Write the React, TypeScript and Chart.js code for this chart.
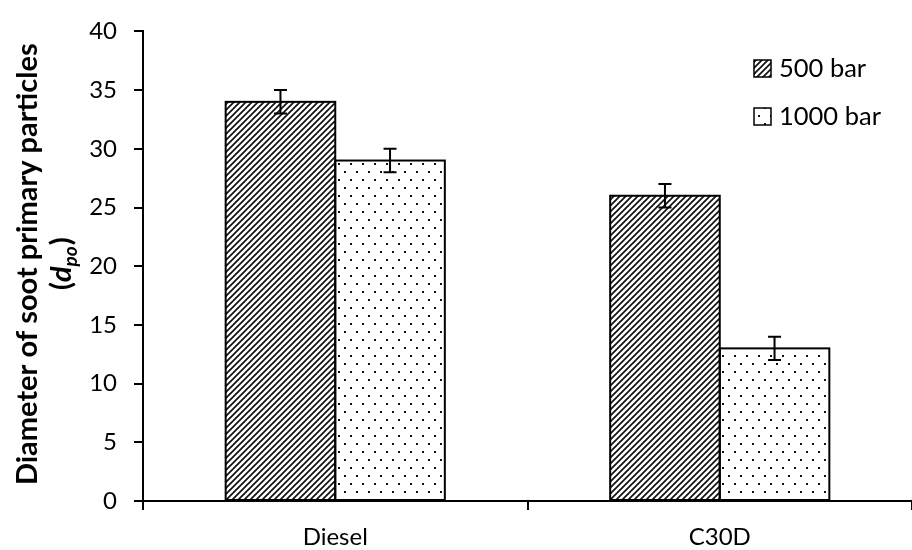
import React, { useEffect, useRef } from 'react';
import { Chart, registerables } from 'chart.js';
Chart.register(...registerables);

const categories = ['Diesel', 'C30D'];
const seriesNames = ['500 bar', '1000 bar'];
const values500 = [34, 26];
const values1000 = [29, 13];
const errors500 = [1, 1];
const errors1000 = [1, 1];
const yMin = 0;
const yMax = 40;
const yStep = 5;
const yTitleLine1 = 'Diameter of soot primary particles';

const FONT = 'Lato';
const FS_TICK = 24;
const FS_LEGEND = 25.5;
const FS_TITLE = 29;

function makeHatch(): CanvasPattern {
  const c = document.createElement('canvas');
  c.width = 6; c.height = 6;
  const g = c.getContext('2d')!;
  g.fillStyle = '#fff'; g.fillRect(0, 0, 6, 6);
  g.strokeStyle = '#111'; g.lineWidth = 1.7;
  g.beginPath();
  g.moveTo(-1, 7); g.lineTo(7, -1);
  g.moveTo(-1, 1); g.lineTo(1, -1);
  g.moveTo(5, 7); g.lineTo(7, 5);
  g.stroke();
  return g.createPattern(c, 'repeat')!;
}

function makeDots(): CanvasPattern {
  const c = document.createElement('canvas');
  c.width = 12; c.height = 16;
  const g = c.getContext('2d')!;
  g.fillStyle = '#fff'; g.fillRect(0, 0, 12, 16);
  g.fillStyle = '#111';
  g.fillRect(2, 3, 2, 2);
  g.fillRect(8, 11, 2, 2);
  return g.createPattern(c, 'repeat')!;
}

export default function App() {
  const ref = useRef<HTMLCanvasElement>(null);
  useEffect(() => {
    document.body.style.margin = '0';
    const canvas = ref.current!;
    const hatch = makeHatch();
    const dots = makeDots();
    const errs = [errors500, errors1000];
    const fills = [hatch, dots];

    const outlinePlugin = {
      id: 'outlinesAndErrors',
      afterDatasetsDraw(chart: any) {
        const ctx = chart.ctx;
        const yScale = chart.scales.y;
        ctx.save();
        chart.data.datasets.forEach((ds: any, di: number) => {
          const meta = chart.getDatasetMeta(di);
          meta.data.forEach((bar: any) => {
            const p = bar.getProps(['x', 'y', 'base', 'width'], true);
            ctx.strokeStyle = '#000';
            ctx.lineWidth = 2;
            ctx.strokeRect(p.x - p.width / 2, p.y, p.width, p.base - p.y);
          });
        });
        chart.data.datasets.forEach((ds: any, di: number) => {
          const meta = chart.getDatasetMeta(di);
          meta.data.forEach((bar: any, i: number) => {
            const v = ds.data[i];
            const e = errs[di][i];
            const x = bar.x;
            const yt = yScale.getPixelForValue(v + e);
            const yb = yScale.getPixelForValue(v - e);
            ctx.strokeStyle = '#000';
            ctx.lineWidth = 2;
            ctx.beginPath();
            ctx.moveTo(x, yt); ctx.lineTo(x, yb);
            ctx.moveTo(x - 6.5, yt); ctx.lineTo(x + 6.5, yt);
            ctx.moveTo(x - 6.5, yb); ctx.lineTo(x + 6.5, yb);
            ctx.stroke();
          });
        });
        ctx.restore();
      },
    };

    const decorPlugin = {
      id: 'decor',
      afterDraw(chart: any) {
        const ctx = chart.ctx;
        const area = chart.chartArea;
        const cy = (area.top + area.bottom) / 2 - 2;
        ctx.save();
        ctx.fillStyle = '#000';
        // y title line 1
        ctx.save();
        ctx.translate(28, cy);
        ctx.rotate(-Math.PI / 2);
        ctx.font = `bold ${FS_TITLE}px ${FONT}`;
        ctx.textAlign = 'center';
        ctx.textBaseline = 'middle';
        ctx.fillText(yTitleLine1, 0, 0);
        ctx.restore();
        // y title line 2: (d_po)
        ctx.save();
        ctx.translate(62, cy);
        ctx.rotate(-Math.PI / 2);
        const mainF = `bold ${FS_TITLE}px ${FONT}`;
        const itF = `italic bold ${FS_TITLE}px ${FONT}`;
        const subF = `italic bold ${Math.round(FS_TITLE * 0.66)}px ${FONT}`;
        const parts = [
          { t: '(', f: mainF, dy: 0 },
          { t: 'd', f: itF, dy: 0 },
          { t: 'po', f: subF, dy: 6 },
          { t: ')', f: mainF, dy: 0 },
        ];
        let total = 0;
        parts.forEach((p) => { ctx.font = p.f; total += ctx.measureText(p.t).width; });
        let xx = -total / 2;
        ctx.textAlign = 'left';
        ctx.textBaseline = 'alphabetic';
        parts.forEach((p) => {
          ctx.font = p.f;
          ctx.fillText(p.t, xx, 9 + p.dy);
          xx += ctx.measureText(p.t).width + (p.t === 'po' ? 1 : 0);
        });
        ctx.restore();
        // legend
        const rows = [68, 116];
        rows.forEach((ry, i) => {
          ctx.fillStyle = fills[i];
          ctx.fillRect(754, ry - 8, 17, 17);
          ctx.strokeStyle = '#000';
          ctx.lineWidth = 1.5;
          ctx.strokeRect(754, ry - 8, 17, 17);
          ctx.fillStyle = '#000';
          ctx.font = `${FS_LEGEND}px ${FONT}`;
          ctx.textAlign = 'left';
          ctx.textBaseline = 'middle';
          ctx.fillText(seriesNames[i], 779, ry + 1);
        });
        ctx.restore();
      },
    };

    const chart = new Chart(canvas, {
      type: 'bar',
      data: {
        labels: categories,
        datasets: [
          { label: seriesNames[0], data: values500, backgroundColor: hatch as any, borderWidth: 0, barPercentage: 1, categoryPercentage: 0.57 },
          { label: seriesNames[1], data: values1000, backgroundColor: dots as any, borderWidth: 0, barPercentage: 1, categoryPercentage: 0.57 },
        ],
      },
      options: {
        responsive: false,
        animation: false,
        devicePixelRatio: 1,
        layout: { padding: { top: 24, left: 0, right: 0, bottom: 0 } },
        plugins: { legend: { display: false }, tooltip: { enabled: false }, title: { display: false } },
        scales: {
          x: {
            grid: { display: true, drawOnChartArea: false, drawTicks: true, tickLength: 9, color: '#000', lineWidth: 2, offset: true },
            border: { display: true, color: '#000', width: 2 },
            ticks: { color: '#000', font: { family: FONT, size: FS_TICK }, padding: 13 },
            afterFit: (s: any) => { s.height = 49; },
          },
          y: {
            min: yMin,
            max: yMax,
            ticks: { stepSize: yStep, color: '#000', font: { family: FONT, size: FS_TICK }, padding: 17 },
            grid: { drawOnChartArea: false, drawTicks: true, tickLength: 9, color: '#000', lineWidth: 2 },
            border: { display: true, color: '#000', width: 2 },
            afterFit: (s: any) => { s.width = 143; },
          },
        },
      },
      plugins: [outlinePlugin, decorPlugin],
    });
    return () => chart.destroy();
  }, []);
  return (
    <div style={{ position: 'fixed', left: 0, top: 0, width: 912, height: 550 }}>
      <canvas ref={ref} width={912} height={550} />
    </div>
  );
}
